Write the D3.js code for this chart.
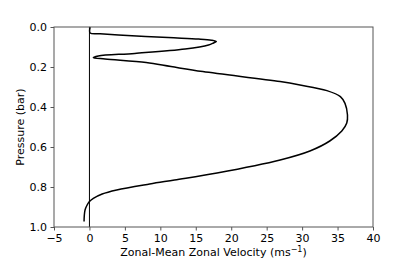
<!DOCTYPE html>
<html>
<head>
<meta charset="utf-8">
<script src="https://cdn.jsdelivr.net/npm/d3@7"></script>
<style>
	body { margin: 0; background: #fff; }
	text { font-family: "DejaVu Sans", sans-serif; }
</style>
</head>
<body>
<div id="chart"></div>
<script>
let W = 415, H = 267;
let margin = {top: 27, right: 42, bottom: 40, left: 54};

// profile: pressure (bar) and zonal-mean zonal velocity (m/s)
let pressure = [0, 0.03, 0.034, 0.04, 0.053, 0.06, 0.066, 0.073, 0.08, 0.09, 0.11, 0.132, 0.145, 0.153,
	0.16, 0.178, 0.198, 0.223, 0.273, 0.29, 0.318, 0.348, 0.382, 0.44, 0.48, 0.52, 0.57, 0.62, 0.665,
	0.73, 0.765, 0.785, 0.815, 0.835, 0.857, 0.873, 0.895, 0.915, 0.94, 0.973];
let velocity = [0.1, 0.1, 1.5, 4.1, 11.1, 15.4, 17.2, 17.9, 17.5, 16.8, 13.5, 6.4, 1.25, 0.55,
	2.2, 8.0, 11.5, 16.0, 26.9, 29.7, 33.5, 35.4, 36.05, 36.4, 36.3, 35.6, 33.9, 31.1, 26.9,
	18.0, 12.0, 8.5, 3.85, 1.8, 0.55, 0, -0.4, -0.62, -0.72, -0.76];

let xTicks = [-5, 0, 5, 10, 15, 20, 25, 30, 35, 40];
let yTicks = [0.0, 0.2, 0.4, 0.6, 0.8, 1.0];

let x = d3.scaleLinear().domain([-5, 40]).range([margin.left, W - margin.right]);
let y = d3.scaleLinear().domain([0, 1]).range([margin.top, H - margin.bottom]);

let svg = d3.select("#chart").append("svg")
	.attr("width", W)
	.attr("height", H);

let spine = "#555";
let fs = 11;

// zero line
svg.append("line")
	.attr("x1", x(0)).attr("x2", x(0))
	.attr("y1", y(0)).attr("y2", y(1))
	.attr("stroke", "#000")
	.attr("stroke-width", 1);

// profile
let pts = pressure.map(function (p, i) { return [velocity[i], p]; });
svg.append("path")
	.datum(pts)
	.attr("fill", "none")
	.attr("stroke", "#000")
	.attr("stroke-width", 1.5)
	.attr("d", d3.line()
		.x(function (d) { return x(d[0]); })
		.y(function (d) { return y(d[1]); })
		.curve(d3.curveCatmullRom.alpha(0.5)));

// axes
let xAxis = svg.append("g")
	.attr("transform", "translate(0," + y(1) + ")")
	.call(d3.axisBottom(x).tickValues(xTicks).tickSize(3.5).tickPadding(3.5).tickFormat(d3.format("d")));
let yAxis = svg.append("g")
	.attr("transform", "translate(" + x(-5) + ",0)")
	.call(d3.axisLeft(y).tickValues(yTicks).tickSize(3.5).tickPadding(3.5).tickFormat(d3.format(".1f")));

[xAxis, yAxis].forEach(function (g) {
	g.select(".domain").remove();
	g.selectAll(".tick line").attr("stroke", spine).attr("stroke-width", 1);
	g.selectAll("text").attr("font-size", fs).attr("font-family", "DejaVu Sans").attr("fill", "#000");
});

// frame
svg.append("rect")
	.attr("x", x(-5)).attr("y", y(0))
	.attr("width", x(40) - x(-5)).attr("height", y(1) - y(0))
	.attr("fill", "none")
	.attr("stroke", spine)
	.attr("stroke-width", 1);

// labels
let xl = svg.append("text")
	.attr("x", (x(-5) + x(40)) / 2)
	.attr("y", 256)
	.attr("text-anchor", "middle")
	.attr("font-size", fs);
xl.append("tspan").text("Zonal-Mean Zonal Velocity (ms");
xl.append("tspan").attr("font-size", 8).attr("dy", -4.5).text("\u22121");
xl.append("tspan").attr("dy", 4.5).text(")");

svg.append("text")
	.attr("transform", "translate(24," + (y(0) + y(1)) / 2 + ") rotate(-90)")
	.attr("text-anchor", "middle")
	.attr("font-size", fs)
	.text("Pressure (bar)");
</script>
</body>
</html>
